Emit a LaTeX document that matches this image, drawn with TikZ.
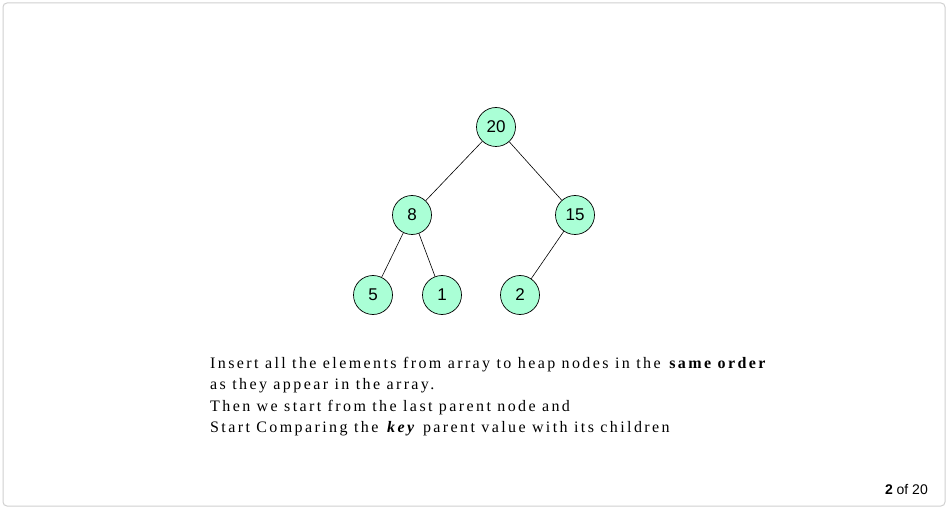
\documentclass[tikz,border=0pt]{standalone}
\usepackage{fontspec}
\setmainfont{Liberation Serif}
\newfontfamily\sansf{Liberation Sans}
\definecolor{mint}{RGB}{170,255,214}
\definecolor{framegray}{RGB}{208,208,208}
\begin{document}
\begin{tikzpicture}[x=1pt,y=-1pt,
  hnode/.style={circle,draw=black,line width=0.7pt,fill=mint,minimum size=39pt,inner sep=0pt,font=\sansf\fontsize{17}{19}\selectfont},
  edge/.style={draw=black,line width=0.6pt},
  body/.style={anchor=base west,inner sep=0pt,font=\addfontfeatures{LetterSpace=15}\fontsize{16}{19}\selectfont}]
\useasboundingbox (0,0) rectangle (949,510);
\draw[framegray,line width=1pt,rounded corners=4pt] (3,3) rectangle (945,506);
\node[hnode] (n20) at (496,127) {20};
\node[hnode] (n8) at (412,215) {8};
\node[hnode] (n15) at (575,215) {15};
\node[hnode] (n5) at (373,295) {5};
\node[hnode] (n1) at (442,295) {1};
\node[hnode] (n2) at (520,295) {2};
\draw[edge] (n20) -- (n8);
\draw[edge] (n20) -- (n15);
\draw[edge] (n8) -- (n5);
\draw[edge] (n8) -- (n1);
\draw[edge] (n15) -- (n2);
\node[body] (t1) at (210,368) {Insert all the elements from array to heap nodes in the \textbf{same order}};
\node[body] (t2) at (210,389) {as they appear in the array.};
\node[body] (t3) at (210,411) {Then we start from the last parent node and};
\node[body] (t4) at (210,432) {Start Comparing the \textbf{\textit{key}} parent value with its children};
\node[anchor=base east,inner sep=0pt,font=\sansf\fontsize{14}{16}\selectfont] (pg) at (928,494) {\textbf{2} of 20};
\end{tikzpicture}
\end{document}
